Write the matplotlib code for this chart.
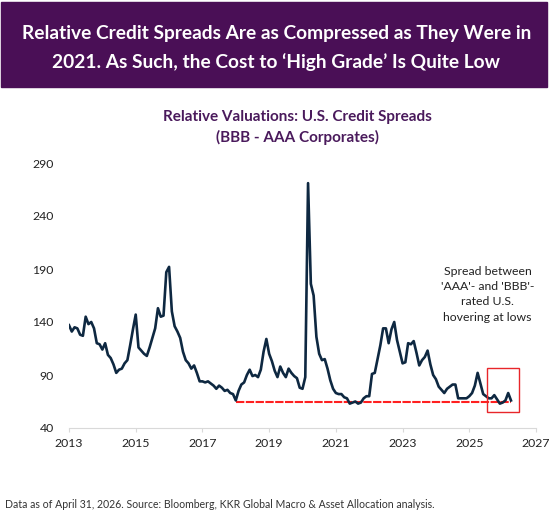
import numpy as np
import matplotlib.pyplot as plt
from matplotlib.patches import Rectangle

plt.rcParams['font.family'] = ['Lato', 'DejaVu Sans']

# monthly BBB - AAA spread, Jan 2013 .. Apr 2026
start_year = 2013
spread = [
    137, 131, 135, 134, 128, 127, 145, 138, 140, 134, 120, 119,  # 2013
    114, 120, 109, 106, 100, 92, 95, 96, 101, 104, 118, 133,     # 2014
    147, 116, 113, 110, 108, 116, 125, 134, 153, 145, 146, 187,  # 2015
    192, 150, 136, 131, 125, 112, 104, 101, 96, 99, 92, 84,      # 2016
    84, 83, 84, 82, 80, 77, 80, 78, 75, 76, 73, 72,              # 2017
    66, 75, 81, 83, 90, 95, 89, 90, 88, 95, 112, 124,            # 2018
    110, 103, 94, 88, 98, 92, 88, 96, 92, 89, 87, 78,            # 2019
    77, 88, 271, 176, 165, 126, 110, 104, 105, 96, 85, 77,       # 2020
    73, 72, 72, 69, 68, 63, 64, 65, 63, 64, 68, 70,              # 2021
    70, 91, 92, 105, 118, 134, 134, 120, 133, 140, 123, 112,     # 2022
    101, 102, 120, 119, 122, 111, 99, 104, 107, 113, 100, 90,    # 2023
    86, 79, 76, 73, 77, 79, 81, 81, 68, 68, 68, 68,              # 2024
    70, 73, 80, 92, 82, 72, 70, 68, 68, 71, 67, 63,              # 2025
    64, 66, 73, 66,                                              # 2026
]
dates = start_year + np.arange(len(spread)) / 12

low_level = 65
low_start = 2018.0

x_ticks = [2013, 2015, 2017, 2019, 2021, 2023, 2025, 2027]
y_ticks = [40, 90, 140, 190, 240, 290]

purple = '#4A0F56'
navy = '#0E2841'

fig = plt.figure(figsize=(5.56, 5.18), dpi=100)

# header banner
fig.patches.append(Rectangle((0.002, 1 - 87 / 518), 546 / 556, 85 / 518,
                             transform=fig.transFigure, color=purple, zorder=0))
fig.text(0.497, 1 - 33 / 518, 'Relative Credit Spreads Are as Compressed as They Were in',
         color='white', fontsize=13.8, fontweight='bold', ha='center', va='center')
fig.text(0.497, 1 - 62 / 518, '2021. As Such, the Cost to \u2018High Grade\u2019 Is Quite Low',
         color='white', fontsize=13.8, fontweight='bold', ha='center', va='center')

fig.text(0.535, 1 - 117 / 518, 'Relative Valuations: U.S. Credit Spreads',
         color='#4A1A5C', fontsize=11, fontweight='bold', ha='center', va='center')
fig.text(0.535, 1 - 137 / 518, '(BBB - AAA Corporates)',
         color='#4A1A5C', fontsize=11, fontweight='bold', ha='center', va='center')

ax = fig.add_axes([69 / 556, 1 - 428 / 518, 467 / 556, 265 / 518])
ax.plot(dates, spread, color=navy, lw=1.9, solid_joinstyle='round', zorder=3)
ax.plot([low_start, dates[-1]], [low_level, low_level], color='#FF2020',
        lw=1.5, linestyle=(0, (4, 0.7)), zorder=2)

# highlight box on latest readings
ax.add_patch(Rectangle((2025.53, 55.5), 0.95, 41, fill=False,
                       edgecolor='#E8262A', lw=1.0, zorder=4))

ax.text(2025.55, 166, "Spread between\n'AAA'- and 'BBB'-\nrated U.S.\nhovering at lows",
        ha='center', va='center', fontsize=8.8, color='#222222', linespacing=1.45)

ax.set_xlim(2013, 2027)
ax.set_ylim(40, 290)
ax.set_xticks(x_ticks)
ax.set_yticks(y_ticks)
for s in ['top', 'right', 'left']:
    ax.spines[s].set_visible(False)
ax.spines['bottom'].set_color('#D9D9D9')
ax.tick_params(axis='x', length=3, color='#D9D9D9', labelsize=8.8, labelcolor='#222222', pad=4)
ax.tick_params(axis='y', length=0, labelsize=8.8, labelcolor='#222222', pad=11)

fig.text(0.009, 1 - 505 / 518,
         'Data as of April 31, 2026. Source: Bloomberg, KKR Global Macro & Asset Allocation analysis.',
         fontsize=7.6, color='#333333', ha='left', va='center')

fig.savefig('out.png', dpi=100)
